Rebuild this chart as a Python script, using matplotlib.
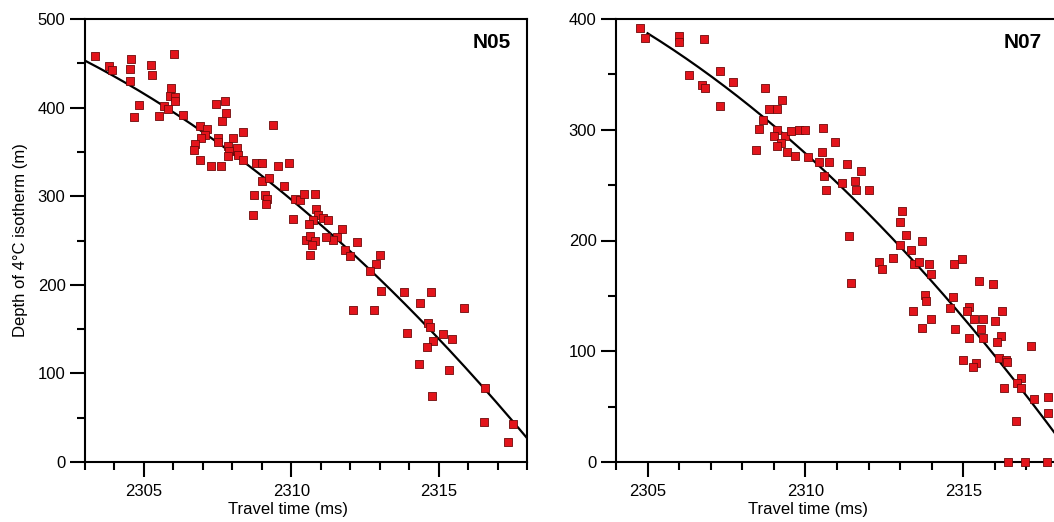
import numpy as np
import matplotlib
matplotlib.use("Agg")
import matplotlib.pyplot as plt
from matplotlib.ticker import MultipleLocator

plt.rcParams["font.family"] = ["Liberation Sans", "DejaVu Sans"]

# Panel N05: travel time (ms) vs depth of 4°C isotherm (m)
N05_TIME = [
    2303.34, 2303.82, 2303.93, 2304.57, 2304.53, 2304.52, 2305.25, 2305.29, 2306.03, 2304.84,
    2304.67, 2305.50, 2305.93, 2305.88, 2306.07, 2306.06, 2305.69, 2305.82, 2306.33, 2306.90,
    2307.14, 2307.08, 2306.92, 2306.75, 2306.71, 2306.90, 2307.27, 2307.62, 2307.44, 2307.74,
    2307.78, 2307.65, 2307.53, 2307.50, 2307.84, 2307.87, 2307.85, 2308.03, 2308.16, 2308.19,
    2308.37, 2308.36, 2309.38, 2308.82, 2309.02, 2309.01, 2309.25, 2309.55, 2309.92, 2309.76,
    2308.75, 2309.10, 2309.17, 2309.14, 2308.71, 2310.06, 2310.12, 2310.31, 2310.42, 2310.81,
    2310.83, 2310.91, 2311.06, 2311.25, 2310.74, 2310.60, 2311.71, 2311.55, 2311.42, 2311.19,
    2310.49, 2310.63, 2310.82, 2310.72, 2310.63, 2312.22, 2311.84, 2311.98, 2313.02, 2312.86,
    2312.68, 2313.06, 2313.82, 2314.74, 2314.36, 2312.11, 2312.82, 2315.85, 2314.65, 2314.72,
    2313.92, 2315.14, 2315.46, 2314.80, 2314.59, 2314.32, 2315.35, 2316.58, 2314.76, 2316.54,
    2317.52, 2317.34,
]
N05_DEPTH = [
    458, 447, 442, 455, 444, 430, 448, 437, 461, 403,
    389, 391, 422, 413, 412, 407, 402, 398, 392, 379,
    376, 369, 366, 359, 352, 341, 334, 334, 404, 408,
    394, 385, 366, 361, 357, 351, 345, 366, 354, 347,
    372, 341, 380, 338, 337, 317, 321, 334, 338, 311,
    301, 301, 297, 291, 279, 274, 297, 296, 303, 303,
    285, 279, 275, 273, 273, 269, 263, 254, 251, 254,
    251, 255, 249, 245, 234, 248, 239, 233, 234, 224,
    216, 193, 192, 192, 179, 172, 171, 174, 157, 152,
    146, 145, 139, 137, 130, 111, 104, 83, 75, 45,
    43, 23,
]
# points
N05_CURVE_TIME = [2303.0, 2310.29, 2312.32, 2318.0]
N05_CURVE_DEPTH = [453, 288, 228, 27]

# Panel N07
N07_TIME = [
    2304.76, 2304.91, 2305.99, 2306.01, 2306.79, 2306.31, 2306.72, 2306.83, 2307.30, 2307.70,
    2307.29, 2308.71, 2308.84, 2309.09, 2309.27, 2308.67, 2308.52, 2309.09, 2309.01, 2309.36,
    2309.23, 2309.11, 2308.44, 2309.41, 2309.67, 2309.54, 2309.81, 2309.99, 2310.07, 2310.55,
    2310.95, 2310.53, 2310.43, 2310.76, 2311.33, 2311.76, 2310.60, 2310.64, 2311.17, 2311.57,
    2311.61, 2312.02, 2313.06, 2313.00, 2313.17, 2313.69, 2311.38, 2313.00, 2313.34, 2312.34,
    2312.42, 2312.77, 2311.45, 2313.44, 2313.61, 2313.90, 2313.97, 2314.71, 2314.96, 2313.79,
    2313.82, 2313.42, 2313.97, 2313.69, 2314.67, 2314.58, 2314.73, 2315.50, 2315.94, 2315.19,
    2315.11, 2315.35, 2315.64, 2316.23, 2316.01, 2315.57, 2315.61, 2315.19, 2316.19, 2316.06,
    2317.14, 2314.98, 2315.41, 2315.32, 2316.14, 2316.36, 2316.40, 2316.84, 2316.70, 2316.84,
    2316.29, 2317.25, 2317.69, 2317.67, 2316.68, 2316.41, 2316.97, 2317.66,
]
N07_DEPTH = [
    392, 383, 385, 379, 382, 349, 340, 338, 353, 343,
    321, 338, 319, 319, 327, 309, 301, 300, 294, 294,
    288, 285, 282, 280, 276, 299, 300, 300, 275, 302,
    289, 280, 271, 271, 269, 263, 258, 246, 252, 254,
    246, 246, 227, 217, 205, 200, 204, 196, 191, 181,
    174, 184, 162, 179, 181, 179, 170, 179, 183, 151,
    145, 136, 129, 121, 149, 139, 120, 163, 161, 140,
    136, 129, 129, 136, 127, 120, 112, 112, 114, 108,
    105, 92, 89, 86, 94, 92, 90, 76, 71, 67,
    67, 57, 59, 44, 37, 0, 0, 0,
]
N07_CURVE_TIME = [2305.02, 2308.62, 2313.42, 2317.87]
N07_CURVE_DEPTH = [387, 312, 182, 27]

FIG_W, FIG_H = 1054, 522
fig = plt.figure(figsize=(FIG_W / 100, FIG_H / 100), dpi=100)

ax1 = fig.add_axes([85 / FIG_W, 60 / FIG_H, 442 / FIG_W, 443 / FIG_H])
ax2 = fig.add_axes([616 / FIG_W, 60 / FIG_H, 442 / FIG_W, 443 / FIG_H])

panels = [
    (ax1, N05_TIME, N05_DEPTH, N05_CURVE_TIME, N05_CURVE_DEPTH, "N05",
     (2303, 2318), 500, (2303, 2318), 0.459),
    (ax2, N07_TIME, N07_DEPTH, N07_CURVE_TIME, N07_CURVE_DEPTH, "N07",
     (2304, 2318), 400, (2305.0, 2318.5), 0.434),
]

for ax, t, d, ct, cd, name, xlim, ymax, fit_range, xlab_x in panels:
    # smooth quadratic through the points
    coef = np.polyfit(ct, cd, 2)
    tt = np.linspace(fit_range[0], fit_range[1], 200)
    ax.plot(tt, np.polyval(coef, tt), color="black", lw=1.6, zorder=2)
    ax.scatter(t, d, marker="s", s=40, facecolor="#e3141b", edgecolor="#6e0a0a",
               linewidths=0.6, zorder=3, clip_on=False)

    ax.set_xlim(*xlim)
    ax.set_ylim(0, ymax)
    ax.xaxis.set_major_locator(MultipleLocator(5))
    ax.xaxis.set_minor_locator(MultipleLocator(1))
    ax.yaxis.set_major_locator(MultipleLocator(100))
    ax.yaxis.set_minor_locator(MultipleLocator(50))
    ax.tick_params(which="major", direction="out", length=11, width=1.5,
                   labelsize=12, pad=3)
    ax.tick_params(which="minor", direction="out", length=6, width=1.5)
    ax.tick_params(axis="x", which="major", pad=5)
    for sp in ax.spines.values():
        sp.set_linewidth(1.5)

    ax.text(0.92, 0.946, name, transform=ax.transAxes, fontsize=15,
            fontweight="bold", ha="center", va="center")
    ax.set_xlabel("Travel time (ms)", fontsize=12)
    ax.xaxis.set_label_coords(xlab_x, -0.09)

ax1.set_ylabel("Depth of 4\u00b0C isotherm (m)", fontsize=12)
ax1.yaxis.set_label_coords(-0.13, 0.5)

fig.savefig("out.png", dpi=100)
